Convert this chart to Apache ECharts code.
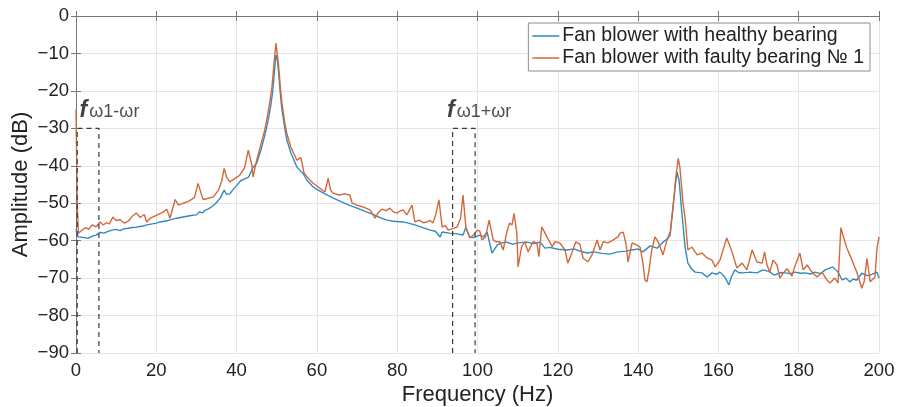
<!DOCTYPE html>
<html>
<head>
<meta charset="utf-8">
<script src="https://cdn.jsdelivr.net/npm/echarts@6/dist/echarts.min.js"></script>
<style>
html,body{margin:0;padding:0;background:#fff;}
#c{width:897px;height:407px;}
</style>
</head>
<body>
<div id="c"></div>
<script>
// ---- Data ----
var xTicks = [0, 20, 40, 60, 80, 100, 120, 140, 160, 180, 200];
var yTicks = [-90, -80, -70, -60, -50, -40, -30, -20, -10, 0];

var healthyFreq = [0,0.5,2,3,4,5,6,7,8,9,10,11,12,13,14,15,16,17,18,19,20,21,22,23,24,25,26,27,28,29,30,30.8,31.5,32,33,34,35,36,36.9,37.5,38.3,39,40,41,42,43,44,45,46,47,47.5,48,48.5,49,49.4,49.8,50.2,50.6,51,51.3,52,52.5,53.5,55,56,56.5,57.5,59,60,62,64,66,68,70,72,74,76,77.5,79,81.5,83,84.4,86,88.2,89.5,90.7,91.2,93,94.9,96.4,97.1,98,99,100.6,101.5,102.4,103.6,104.9,106,107.3,108.8,110,112.3,114,115.6,116.8,118,120,122.3,124,125.5,127.3,129,131,133,135,137,138.5,140,141.2,143,144.7,146.2,147.3,148,148.7,149.3,149.7,150.2,150.9,151.7,152.4,153.3,154.2,155.9,157.2,158.4,159.5,160.4,161.6,162.6,163.3,164.1,165,166.1,167.9,169.6,171.1,172.5,174,175.5,176.6,178,179,180.5,181.6,183,184,185.5,186.6,188.5,189.8,190.8,191.8,192.7,193.5,194.5,195.7,197,197.8,199.5,200];
var healthyAmp = [-57,-59,-59.2,-59.4,-58.8,-58.5,-57.8,-58,-57.5,-57.2,-57,-57.3,-56.8,-56.7,-56.5,-56.4,-56.2,-56,-55.7,-55.5,-55.3,-55,-54.8,-54.6,-54.3,-54,-53.8,-53.6,-53.4,-53.2,-53.1,-52.3,-52.6,-52,-51.5,-50.8,-49.8,-48.5,-46.5,-47.6,-47.5,-46.5,-45.3,-44,-43.5,-43,-40.6,-39.3,-36,-32,-29.6,-27,-24,-20,-15,-10.4,-12,-17,-22,-25,-30,-33,-36.5,-40.3,-41.5,-42,-43.8,-45.6,-46.3,-47.5,-48.6,-49.6,-50.5,-51.3,-52.2,-53,-54,-54.5,-54.8,-55,-55.4,-55.8,-56.4,-57.2,-57.5,-59,-57.7,-58,-58.2,-58.5,-56.4,-59,-59.2,-58.5,-59,-57.7,-63.3,-61.2,-60.6,-60.4,-61,-60.6,-60.4,-60.8,-60.4,-62,-61.8,-62.3,-62.5,-62.2,-62.8,-63.3,-63,-63.4,-63.6,-63,-62.8,-62.5,-62.2,-63,-61.4,-62,-60.4,-59.5,-57.7,-51,-45,-41.7,-43.8,-52.6,-61.7,-66,-67.5,-68.4,-68.6,-69.7,-68.6,-69,-68.4,-69.7,-71.8,-69.5,-67.8,-68.5,-68.6,-68.4,-68.6,-67.8,-68.2,-69.2,-68.5,-68.6,-68.8,-68.4,-68.7,-68.6,-68.9,-68.4,-68.8,-67.8,-67,-68.4,-70.5,-70,-71,-70.3,-70.5,-68.7,-69.3,-69.2,-68.4,-70];

var faultyFreq = [0,0.3,0.6,1,1.7,2.5,3.2,4,5,6,6.8,7.5,8.3,9.2,10,11,12,13,14,15,16,17,17.6,18.5,19.5,20.5,21.5,22.6,23.4,24.7,25.5,26.7,28,29.5,30.4,31.2,31.7,32.5,34.2,35.5,36.3,36.9,37.5,38.3,39.5,40.8,42,42.9,43.8,44.1,45,46,47,47.5,48.2,48.8,49.4,49.8,50.4,50.9,51.3,52,52.5,53.5,55,56,56.3,56.8,58,59,60.5,62,62.8,63.4,64,65.5,67,68.2,68.8,70,71.5,73.2,74.5,75.3,76.2,77.2,78.2,79,80,80.8,81.5,82.4,83.7,84.4,85.5,86.5,87.4,88.2,88.9,89.6,90.4,91.2,92,92.7,93.8,94.9,95.8,96.4,97.1,98.1,99,99.9,100.6,101.1,102,102.9,103.9,104.6,105.6,106.4,106.8,107.3,108,108.6,109.1,109.8,110.1,111,111.8,112.6,113.8,114.8,115.3,116,117.3,118.6,119.3,120.5,121.8,122.5,123.5,124.5,125.5,126.3,127.5,128.5,129.8,130.5,131.3,132.5,133.8,135,135.5,136.3,137,137.5,138.5,139.7,140.5,141.2,141.7,142.2,142.7,143.4,144.2,145,145.6,146.2,147.2,148,148.7,149.4,150,150.4,151.2,151.7,152.4,153.4,154.7,155.9,157.2,158.4,159.2,160.4,161.3,162.1,163.4,164.6,165.9,167.1,168.4,169.6,170.9,171.5,172.1,172.8,173.6,174.6,175.3,176.1,177.1,178.3,179,180.3,181.1,182.1,183.3,184.6,185.8,187,187.8,189,189.8,190.5,191,192,193.2,194.5,195.7,196.3,197,197.8,199,199.5,200];
var faultyAmp = [-25,-50,-58,-57.7,-57,-56.5,-57,-55.8,-56.3,-55,-55.8,-55.2,-55.5,-53.7,-54.6,-54.4,-55.3,-54.8,-53.5,-52.6,-53.8,-53,-55,-54,-53.5,-53,-52.5,-51.6,-54,-49,-50.5,-50,-49.5,-48.5,-44.7,-47.5,-49,-48.8,-48.3,-46.5,-44,-40.7,-43,-44.3,-43.5,-42.5,-40.5,-35.8,-39.8,-43,-38.5,-34.5,-30.5,-27.8,-23.5,-19,-11.8,-7.2,-12.6,-19,-23.3,-28.5,-31.3,-35,-38.5,-37.8,-39.3,-42,-43.5,-44.6,-45.8,-47,-43.3,-46.5,-47.3,-47.8,-47.5,-47.8,-50,-50.5,-51,-51.8,-54,-52.5,-51.6,-52,-51.3,-52.3,-52.6,-52,-51.8,-53.1,-50.5,-55,-54.5,-55.2,-55,-54.6,-55.3,-53,-49.1,-56.4,-56,-57.2,-56.8,-56.4,-54,-47.8,-56.4,-59.3,-58.5,-57.2,-57.5,-59.8,-59,-54.5,-59.8,-60.3,-60.3,-62.5,-63,-57.7,-55.3,-55.8,-52.7,-58,-67,-61.6,-60.3,-63,-60.3,-60.6,-64.3,-56.3,-59,-61.6,-60.3,-60.6,-62.5,-66,-63.3,-60.3,-61,-64.7,-65.7,-63.8,-59.8,-62.5,-60.3,-60.6,-59.8,-59,-58,-57.7,-61,-65.7,-60.6,-61.2,-61.7,-66,-70.5,-71,-68,-62.5,-59,-60.3,-62,-63.8,-59.8,-58.5,-51,-43,-38,-40.3,-50,-54,-62.5,-61.7,-63.8,-63.3,-64.6,-65.2,-67,-65.2,-62,-59.3,-63,-67.3,-66,-67.8,-62.5,-65.7,-66,-63,-66.5,-68.4,-65.2,-66.5,-70,-68.7,-67.5,-69.5,-67,-63.3,-67.8,-66.5,-68.4,-69.7,-68.4,-70.5,-71.3,-70,-71.3,-56.5,-58.5,-62,-65,-68.5,-72.7,-71,-64.7,-71,-69.7,-62,-59];

// annotation markers (Hz / dB)
var leftMarkFreq = [0.3, 5.7];
var rightMarkFreq = [93.8, 99.4];
var markTopDb = -30;
var markLabelLeft = [0.9, -25.2];
var markLabelRight = [92.4, -25.2];

var seriesNames = ['Fan blower with healthy bearing', 'Fan blower with faulty bearing \u2116 1'];

function pairs(xs, ys){ var o=[]; for (var i=0;i<xs.length;i++) o.push([xs[i], ys[i]]); return o; }
function bracket(fs, top){ return [[fs[0],-90],[fs[0],top],[fs[1],top],[fs[1],-90]]; }
function minusFmt(v){ return String(v).replace('-', '\u2212'); }

var FONT = '"Liberation Sans", Arial, Helvetica, sans-serif';
var chart = echarts.init(document.getElementById('c'), null, {renderer:'canvas'});

var axisCommon = {
  axisLine:{show:true, lineStyle:{color:'#777', width:1}},
  axisTick:{show:true, inside:true, length:5, lineStyle:{color:'#777'}},
  splitLine:{show:false}
};

var labelRich = {
  f:{fontFamily:FONT, fontSize:23, fontWeight:'bold', fontStyle:'italic', color:'#111', padding:[0,2,0,0]},
  s:{fontFamily:FONT, fontSize:18, color:'#222', padding:[4,0,0,0]}
};

chart.setOption({
  animation:false,
  backgroundColor:'#fff',
  grid:{left:76, right:18, top:16, bottom:54, containLabel:false, outerBoundsMode:'none'},
  legend:{
    data:seriesNames.map(function(n){return {name:n, icon:'rect'};}),
    orient:'vertical', right:27, top:23, itemWidth:27, itemHeight:1.5, itemGap:2,
    padding:[3,6,3,4], backgroundColor:'#fff', borderColor:'#8c8c8c', borderWidth:1,
    textStyle:{fontFamily:FONT, fontSize:19.5, color:'#222', padding:[0,0,0,-2]}
  },
  xAxis:[
    Object.assign({}, axisCommon, {
      type:'value', min:xTicks[0], max:xTicks[xTicks.length-1], interval:20, position:'bottom',
      name:'Frequency (Hz)', nameLocation:'middle', nameGap:31, nameMoveOverlap:false,
      nameTextStyle:{fontFamily:FONT, fontSize:22, color:'#222'},
      axisLabel:{fontFamily:FONT, fontSize:18.5, color:'#222', margin:8, formatter:minusFmt},
      splitLine:{show:true, lineStyle:{color:'#e4e4e4', width:1}}
    }),
    Object.assign({}, axisCommon, {
      type:'value', min:xTicks[0], max:xTicks[xTicks.length-1], interval:20, position:'top',
      axisLabel:{show:false}
    })
  ],
  yAxis:[
    Object.assign({}, axisCommon, {
      type:'value', min:yTicks[0], max:yTicks[yTicks.length-1], interval:10, position:'left',
      name:'Amplitude (dB)', nameLocation:'middle', nameGap:44, nameMoveOverlap:false,
      nameTextStyle:{fontFamily:FONT, fontSize:22, color:'#222'},
      axisLabel:{fontFamily:FONT, fontSize:18.5, color:'#222', margin:7, formatter:minusFmt},
      splitLine:{show:true, lineStyle:{color:'#e4e4e4', width:1}}
    }),
    Object.assign({}, axisCommon, {
      type:'value', min:yTicks[0], max:yTicks[yTicks.length-1], interval:10, position:'right',
      axisLabel:{show:false}
    })
  ],
  series:[
    {
      name:seriesNames[0], type:'line', data:pairs(healthyFreq, healthyAmp),
      showSymbol:false, symbol:'none', lineStyle:{color:'#2f8ac2', width:1.4}, itemStyle:{color:'#2f8ac2'}, z:3
    },
    {
      name:seriesNames[1], type:'line', data:pairs(faultyFreq, faultyAmp),
      showSymbol:false, symbol:'none', lineStyle:{color:'#d2693b', width:1.4}, itemStyle:{color:'#d2693b'}, z:4
    },
    {
      name:'markL', type:'line', data:bracket(leftMarkFreq, markTopDb), showSymbol:false, symbol:'none',
      lineStyle:{color:'#3a3a3a', width:1.2, type:[5,4]}, z:5, silent:true
    },
    {
      name:'markR', type:'line', data:bracket(rightMarkFreq, markTopDb), showSymbol:false, symbol:'none',
      lineStyle:{color:'#3a3a3a', width:1.2, type:[5,4]}, z:5, silent:true
    },
    {
      name:'labels', type:'scatter', symbolSize:0, silent:true, z:6,
      data:[
        {value:markLabelLeft, label:{formatter:'{f|f}{s|\u03c91-\u03c9r}'}},
        {value:markLabelRight, label:{formatter:'{f|f}{s|\u03c91+\u03c9r}'}}
      ],
      label:{show:true, position:'inside', align:'left', verticalAlign:'middle', rich:labelRich}
    }
  ]
});
</script>
</body>
</html>
